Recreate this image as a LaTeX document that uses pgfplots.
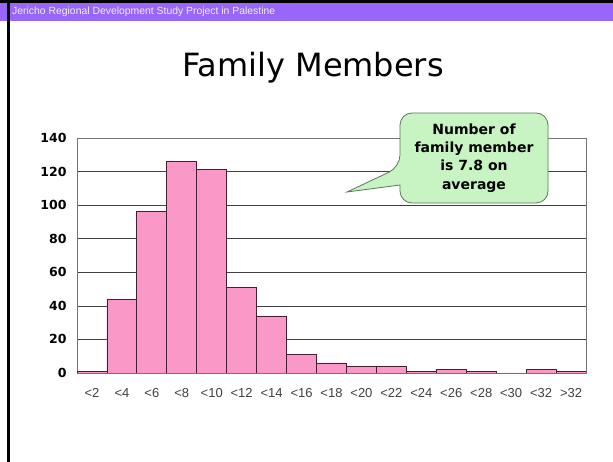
\documentclass[border=0pt]{standalone}
\usepackage{pgfplots}
\pgfplotsset{compat=1.18}
\usepackage{fontspec}
\setmainfont{Liberation Sans}
\newfontfamily\dv{DejaVu Sans}
\definecolor{hdr}{RGB}{153,102,250}
\definecolor{barpink}{RGB}{250,152,200}
\definecolor{baredge}{RGB}{70,30,50}
\definecolor{bubble}{RGB}{200,243,195}
\definecolor{bubbleedge}{RGB}{90,120,90}
\begin{document}
\begin{tikzpicture}[x=1pt,y=1pt]
\path[use as bounding box, fill=white] (0,0) rectangle (613,462);
\fill[hdr] (0,441) rectangle (613,459);
\fill[black] (0,459) rectangle (613,462);
\fill[black] (7,0) rectangle (10,462);
\node[anchor=base west, text=gray!12, font=\fontsize{10.4}{12}\selectfont, inner sep=0] at (12,447) {Jericho Regional Development Study Project in Palestine};
\node[anchor=base, font=\dv\fontsize{32}{36}\selectfont, inner sep=0] at (313,385) {Family Members};
\begin{axis}[
  at={(77pt,89pt)}, anchor=south west, scale only axis,
  width=509pt, height=235pt,
  xmin=-0.5, xmax=16.5, ymin=0, ymax=140,
  ytick={0,20,...,140},
  xtick={0,...,16},
  xticklabels={<2,<4,<6,<8,<10,<12,<14,<16,<18,<20,<22,<24,<26,<28,<30,<32,>32},
  ymajorgrids, grid style={draw=black!75, line width=0.6pt},
  axis line style={draw=black!55, line width=0.8pt},
  major tick length=0,
  /pgf/number format/assume math mode=true,
  yticklabel style={font=\dv\bfseries\fontsize{12.5}{14}\selectfont, xshift=-7pt},
  xticklabel style={font=\fontsize{13}{15}\selectfont, text=black!75, yshift=-12pt},
  ybar, bar width=1,
]
\addplot[fill=barpink, draw=baredge, line width=0.8pt, bar shift=0] coordinates {
(0,1) (1,44) (2,96) (3,126) (4,121) (5,51) (6,34) (7,11) (8,6) (9,4) (10,4) (11,1) (12,2) (13,1) (14,0) (15,2) (16,1)};
\end{axis}
\draw[bubbleedge, fill=bubble, line width=0.8pt, rounded corners=12pt]
  (470,259) -- (548,259) -- (548,349) -- (400,349) -- (400,295)
  [sharp corners] -- (347,270) -- (400,277) [rounded corners=12pt] -- (400,259) -- cycle;
\node[align=center, font=\dv\bfseries\fontsize{14}{18.3}\selectfont, inner sep=0] at (474,304) {Number of\\family member\\is 7.8 on\\average};
\end{tikzpicture}
\end{document}
